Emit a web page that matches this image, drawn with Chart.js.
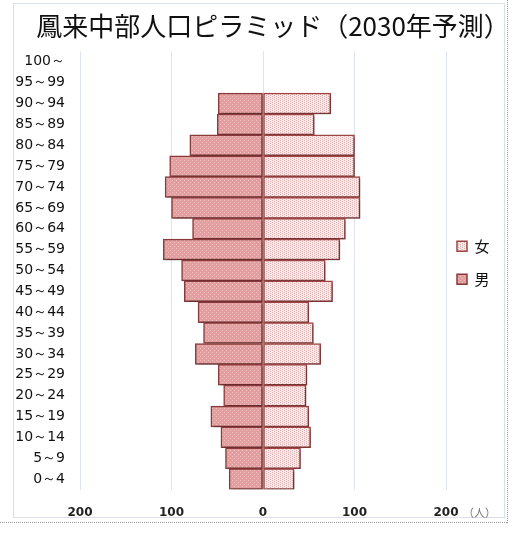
<!DOCTYPE html>
<html><head><meta charset="utf-8">
<script src="https://cdn.jsdelivr.net/npm/chart.js@4.4.0/dist/chart.umd.min.js"></script>
<style>html,body{margin:0;padding:0;background:#fff;}#wrap{width:510px;height:533px;position:relative;}</style>
</head><body><div id="wrap"><canvas id="c" width="510" height="533"></canvas></div>
<script>
const categories = ['100～','95～99','90～94','85～89','80～84','75～79','70～74','65～69','60～64','55～59','50～54','45～49','40～44','35～39','30～34','25～29','20～24','15～19','10～14','5～9','0～4'];
const maleValues = [0,0,49,50,80,102,107,100,77,109,89,86,71,65,74,49,43,57,46,41,37];
const femaleValues = [0,0,74,56,100,100,106,106,90,84,68,76,50,55,63,48,47,50,52,41,34];
const xTicks = [-200,-100,0,100,200];
const seriesNames = ['女','男'];
const unitLabel = '（人）';

function makePattern(base, dot, vertical){
  const p = document.createElement('canvas'); p.width = 4; p.height = 4;
  const g = p.getContext('2d');
  g.fillStyle = base; g.fillRect(0,0,4,4);
  g.fillStyle = dot;
  if (vertical){ g.fillRect(0,0,1,1); g.fillRect(0,2,1,1); g.fillRect(2,1,1,1); g.fillRect(2,3,1,1); }
  else { g.fillRect(0,0,1,1); g.fillRect(2,2,1,1); }
  return document.getElementById('c').getContext('2d').createPattern(p,'repeat');
}
const maleFill = makePattern('#e39f9f', '#efbdbd', false);
const femaleFill = makePattern('#f8eaea', '#deb0b0', true);

const framePlugin = {
  id: 'frame',
  beforeLayout(chart){
    const lg = chart.legend;
    if (lg && !lg._patched){
      const f = lg.fit;
      lg.fit = function(){ f.call(this); this.width = 55; };
      lg._patched = true;
    }
  },
  afterLayout(chart){
    const lg = chart.legend;
    if (lg){ lg.left -= 7; lg.right -= 7; }
    const tb = chart.titleBlock;
    if (tb){ tb.left += 16; tb.right += 16; }
  },
  beforeDraw(chart){
    const ctx = chart.ctx;
    ctx.save();
    ctx.strokeStyle = '#d8e0ea'; ctx.lineWidth = 1;
    ctx.strokeRect(13.5, 3.5, 491, 514);
    ctx.strokeStyle = '#9a9a9a'; ctx.setLineDash([1,1]);
    ctx.beginPath(); ctx.moveTo(0, 522.5); ctx.lineTo(508, 522.5); ctx.moveTo(507.5, 0); ctx.lineTo(507.5, 523); ctx.stroke();
    ctx.restore();
  },
  beforeDatasetsDraw(chart){
    const ctx = chart.ctx; ctx.save();
    ctx.shadowColor = 'rgba(0,0,0,0.28)'; ctx.shadowOffsetX = 2; ctx.shadowOffsetY = 2; ctx.shadowBlur = 2;
  },
  afterDatasetsDraw(chart){ chart.ctx.restore(); },
  afterDraw(chart){
    const ctx = chart.ctx; ctx.save();
    ctx.font = '11px "Noto Sans CJK JP"'; ctx.fillStyle = '#777';
    ctx.textAlign = 'left'; ctx.textBaseline = 'middle';
    ctx.fillText(unitLabel, 463, 513);
    ctx.restore();
  }
};

new Chart(document.getElementById('c'), {
  type: 'bar',
  data: {
    labels: categories,
    datasets: [
      { label: seriesNames[0], data: femaleValues, backgroundColor: femaleFill, borderColor: '#9e4444', borderWidth: 1.5, borderSkipped: false },
      { label: seriesNames[1], data: maleValues.map(v => -v), backgroundColor: maleFill, borderColor: '#8a3a3a', borderWidth: 1.5, borderSkipped: false }
    ]
  },
  options: {
    indexAxis: 'y',
    responsive: false,
    animation: false,
    devicePixelRatio: 1,
    layout: { padding: { left: 13, right: 9, top: 3.5, bottom: 11 } },
    categoryPercentage: 1,
    barPercentage: 1,
    plugins: {
      title: { display: true, text: '鳳来中部人口ピラミッド（2030年予測）', color: '#111',
        font: { family: '"Noto Sans CJK JP"', size: 26, weight: 'normal', lineHeight: 1.15 },
        padding: { top: 8, bottom: 10 } },
      legend: { position: 'right', align: 'center',
        labels: { color: '#111', boxWidth: 10, boxHeight: 10, padding: 18,
          font: { family: '"Noto Sans CJK JP"', size: 15 } } },
      tooltip: { enabled: false }
    },
    scales: {
      x: {
        stacked: true, min: -200, max: 200,
        afterBuildTicks(s){ s.ticks = xTicks.map(v => ({ value: v })); },
        afterFit(s){ s.height = 32.5; },
        grid: { color: '#dbe4ef', drawTicks: false, lineWidth: 1 },
        border: { display: false },
        ticks: { padding: 16, color: '#222', callback: v => Math.abs(v),
          font: { family: '"DejaVu Sans"', size: 12, weight: 'bold' } }
      },
      y: {
        stacked: true,
        afterFit(s){ s.width = 67; },
        grid: { display: false, drawTicks: false },
        border: { display: false },
        ticks: { padding: 15, color: '#111', autoSkip: false,
          font: { family: '"DejaVu Sans"', size: 14 } }
      }
    }
  },
  plugins: [framePlugin]
});
</script></body></html>
